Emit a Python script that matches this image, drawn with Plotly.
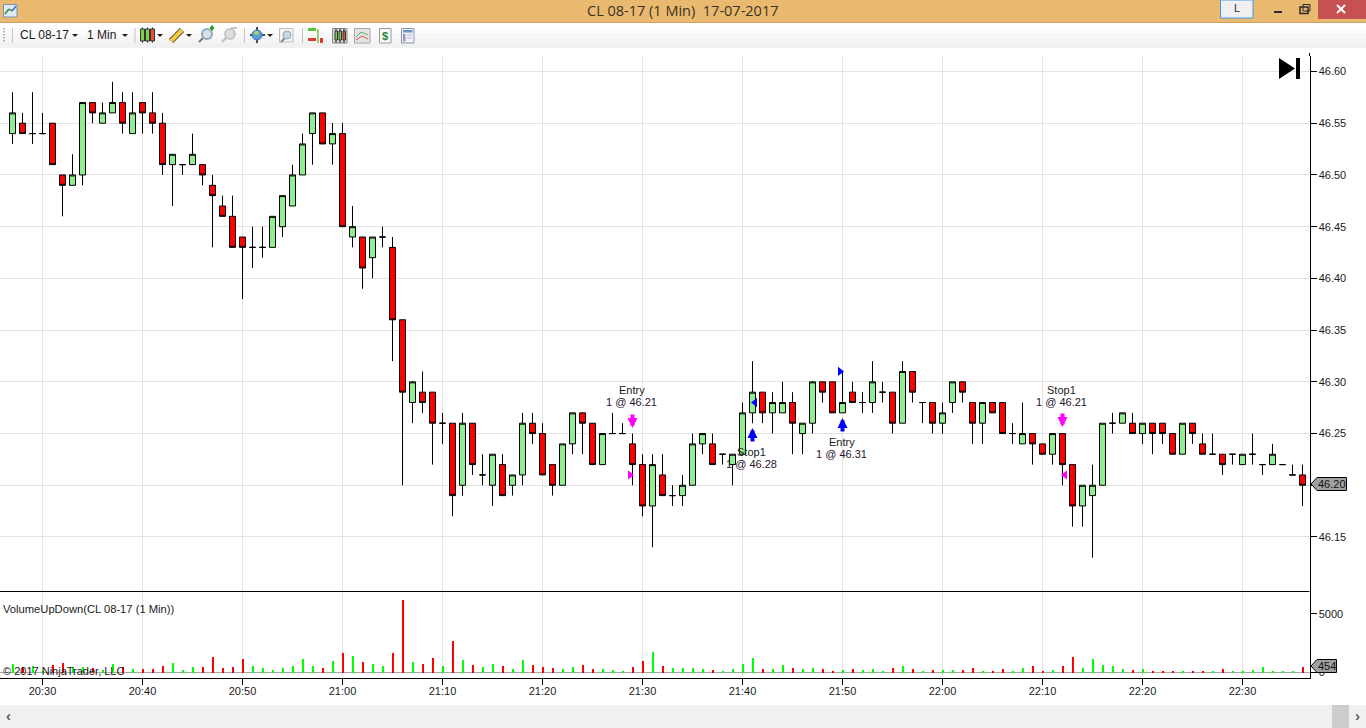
import pandas as pd
import plotly.graph_objects as go

W = 1366
H = 728

# bars, one per minute from 20:27
opens = [46.54, 46.55, 46.54, 46.54, 46.55, 46.50, 46.49, 46.50, 46.57, 46.55,
         46.56, 46.57, 46.54, 46.57, 46.56, 46.55, 46.51, 46.51, 46.51, 46.51,
         46.49, 46.47, 46.46, 46.44, 46.43, 46.43, 46.43, 46.45, 46.47, 46.50,
         46.54, 46.56, 46.53, 46.54, 46.44, 46.44, 46.42, 46.44, 46.43, 46.36,
         46.28, 46.29, 46.29, 46.26, 46.26, 46.20, 46.26, 46.21, 46.20, 46.22,
         46.20, 46.21, 46.26, 46.25, 46.22, 46.20, 46.24, 46.27, 46.26, 46.22,
         46.25, 46.25, 46.24, 46.22, 46.18, 46.21, 46.19, 46.19, 46.20, 46.24,
         46.24, 46.23, 46.22, 46.23, 46.27, 46.29, 46.27, 46.27, 46.28, 46.25,
         46.26, 46.30, 46.30, 46.27, 46.29, 46.28, 46.28, 46.29, 46.29, 46.26,
         46.31, 46.28, 46.28, 46.26, 46.28, 46.30, 46.28, 46.26, 46.28, 46.28,
         46.25, 46.24, 46.25, 46.24, 46.23, 46.25, 46.22, 46.18, 46.19, 46.20,
         46.26, 46.26, 46.26, 46.25, 46.26, 46.26, 46.25, 46.23, 46.26, 46.24,
         46.23, 46.23, 46.23, 46.22, 46.23, 46.22, 46.22, 46.22, 46.21, 46.21]
highs = [46.58, 46.56, 46.58, 46.56, 46.55, 46.50, 46.52, 46.57, 46.57, 46.57,
         46.59, 46.58, 46.58, 46.57, 46.58, 46.56, 46.52, 46.51, 46.54, 46.51,
         46.50, 46.48, 46.48, 46.44, 46.45, 46.45, 46.46, 46.48, 46.51, 46.54,
         46.56, 46.56, 46.55, 46.55, 46.47, 46.44, 46.44, 46.45, 46.44, 46.36,
         46.30, 46.31, 46.29, 46.27, 46.26, 46.27, 46.26, 46.23, 46.23, 46.23,
         46.21, 46.27, 46.27, 46.26, 46.22, 46.24, 46.27, 46.27, 46.26, 46.25,
         46.27, 46.26, 46.25, 46.23, 46.23, 46.23, 46.20, 46.21, 46.25, 46.25,
         46.25, 46.23, 46.23, 46.28, 46.32, 46.29, 46.29, 46.30, 46.29, 46.26,
         46.30, 46.30, 46.30, 46.31, 46.30, 46.29, 46.32, 46.30, 46.29, 46.32,
         46.31, 46.28, 46.28, 46.28, 46.30, 46.30, 46.28, 46.28, 46.28, 46.28,
         46.26, 46.28, 46.25, 46.24, 46.25, 46.25, 46.22, 46.20, 46.22, 46.26,
         46.27, 46.27, 46.27, 46.26, 46.26, 46.26, 46.25, 46.26, 46.26, 46.25,
         46.25, 46.23, 46.23, 46.23, 46.25, 46.22, 46.24, 46.22, 46.22, 46.22]
lows = [46.53, 46.54, 46.53, 46.54, 46.51, 46.46, 46.49, 46.49, 46.55, 46.55,
        46.56, 46.54, 46.54, 46.54, 46.54, 46.50, 46.47, 46.50, 46.51, 46.49,
        46.43, 46.46, 46.43, 46.38, 46.41, 46.42, 46.43, 46.44, 46.47, 46.50,
        46.51, 46.53, 46.51, 46.45, 46.43, 46.39, 46.40, 46.43, 46.32, 46.20,
        46.26, 46.27, 46.22, 46.24, 46.17, 46.19, 46.21, 46.20, 46.18, 46.19,
        46.19, 46.20, 46.24, 46.21, 46.19, 46.20, 46.23, 46.23, 46.22, 46.22,
        46.25, 46.25, 46.20, 46.17, 46.14, 46.19, 46.18, 46.18, 46.20, 46.23,
        46.22, 46.22, 46.20, 46.23, 46.26, 46.26, 46.25, 46.27, 46.23, 46.23,
        46.25, 46.28, 46.27, 46.27, 46.28, 46.27, 46.27, 46.28, 46.25, 46.26,
        46.28, 46.26, 46.25, 46.25, 46.27, 46.28, 46.24, 46.24, 46.27, 46.25,
        46.24, 46.24, 46.22, 46.23, 46.22, 46.20, 46.16, 46.16, 46.13, 46.20,
        46.25, 46.26, 46.25, 46.24, 46.23, 46.24, 46.23, 46.23, 46.24, 46.23,
        46.23, 46.21, 46.22, 46.22, 46.22, 46.21, 46.22, 46.22, 46.21, 46.18]
closes = [46.56, 46.54, 46.54, 46.54, 46.51, 46.49, 46.50, 46.57, 46.56, 46.56,
          46.57, 46.55, 46.56, 46.56, 46.55, 46.51, 46.52, 46.51, 46.52, 46.50,
          46.48, 46.46, 46.43, 46.43, 46.43, 46.43, 46.46, 46.48, 46.50, 46.53,
          46.56, 46.53, 46.54, 46.45, 46.45, 46.41, 46.44, 46.44, 46.36, 46.29,
          46.30, 46.28, 46.26, 46.26, 46.19, 46.26, 46.22, 46.21, 46.23, 46.19,
          46.21, 46.26, 46.25, 46.21, 46.20, 46.24, 46.27, 46.26, 46.22, 46.25,
          46.25, 46.25, 46.22, 46.18, 46.22, 46.19, 46.19, 46.20, 46.24, 46.25,
          46.22, 46.23, 46.23, 46.27, 46.29, 46.27, 46.28, 46.28, 46.26, 46.26,
          46.30, 46.29, 46.27, 46.28, 46.28, 46.28, 46.30, 46.29, 46.26, 46.31,
          46.29, 46.28, 46.26, 46.27, 46.30, 46.29, 46.26, 46.28, 46.27, 46.25,
          46.25, 46.25, 46.24, 46.23, 46.25, 46.22, 46.18, 46.20, 46.20, 46.26,
          46.26, 46.27, 46.25, 46.26, 46.25, 46.25, 46.23, 46.26, 46.25, 46.23,
          46.23, 46.22, 46.23, 46.23, 46.23, 46.22, 46.23, 46.22, 46.21, 46.20]
volumes = [740, 510, 600, 170, 680, 850, 510, 510, 425, 255,
           770, 510, 340, 340, 340, 600, 850, 255, 510, 510,
           1360, 425, 510, 1190, 600, 425, 255, 425, 600, 1190,
           600, 425, 1020, 1700, 1450, 935, 770, 600, 1700, 6200,
           935, 770, 1275, 600, 2720, 1105, 680, 510, 770, 600,
           340, 1105, 680, 510, 425, 340, 510, 680, 340, 340,
           255, 170, 510, 1020, 1790, 600, 425, 425, 425, 340,
           255, 170, 340, 770, 1275, 340, 340, 680, 425, 340,
           425, 340, 170, 255, 340, 255, 340, 170, 425, 600,
           340, 170, 255, 255, 255, 255, 425, 170, 85, 340,
           170, 425, 600, 170, 255, 600, 1360, 425, 1190, 680,
           600, 340, 255, 340, 170, 170, 85, 170, 85, 170,
           170, 340, 85, 170, 255, 510, 170, 85, 85, 454]

# executions: bar index, price, colour, side the small triangle sits on
exec_bars = [62, 74, 83, 105]
exec_prices = [46.21, 46.28, 46.31, 46.21]
exec_names = ["Entry", "Stop1", "Entry", "Stop1"]
exec_colors = ["#ff00ff", "#0000ff", "#0000ff", "#ff00ff"]
exec_symbols = ["triangle-right", "triangle-left", "triangle-right", "triangle-left"]

price_ticks = [46.15, 46.20, 46.25, 46.30, 46.35, 46.40, 46.45, 46.50, 46.55, 46.60]
volume_ticks = [0, 5000]

times = pd.date_range("2017-07-17 20:27", periods=len(closes), freq="min")
x_strs = times.strftime("%Y-%m-%d %H:%M:%S").tolist()
bar_colors = ["#00ff00" if c >= o else "#ff0000" for o, c in zip(opens, closes)]

FONT = "Liberation Sans"
TEXT = "#1a1a1a"
GRID = "#e2e2e2"
CLEAR = "rgba(0,0,0,0)"

shapes = []
annots = []


def box(x0, y0, x1, y1, fill, line=None, lw=1):
    shapes.append(dict(type="rect", xref="paper", yref="paper",
                       x0=x0 / W, x1=x1 / W, y0=1 - y0 / H, y1=1 - y1 / H,
                       fillcolor=fill, line=dict(color=line or fill, width=lw if line else 0)))


def seg(x0, y0, x1, y1, color, lw=1):
    shapes.append(dict(type="line", xref="paper", yref="paper",
                       x0=x0 / W, x1=x1 / W, y0=1 - y0 / H, y1=1 - y1 / H,
                       line=dict(color=color, width=lw)))


def poly(points, fill, line=None, lw=1):
    path = "M" + "L".join(f"{x / W:.5f},{1 - y / H:.5f}" for x, y in points) + "Z"
    shapes.append(dict(type="path", xref="paper", yref="paper", path=path,
                       fillcolor=fill, line=dict(color=line or fill, width=lw if line else 0)))


def circle(x0, y0, x1, y1, fill, line=None, lw=1):
    shapes.append(dict(type="circle", xref="paper", yref="paper",
                       x0=x0 / W, x1=x1 / W, y0=1 - y0 / H, y1=1 - y1 / H,
                       fillcolor=fill, line=dict(color=line or fill, width=lw if line else 0)))


def label(x, y, text, size=11, color=TEXT, anchor="left", font=FONT):
    annots.append(dict(xref="paper", yref="paper", x=x / W, y=1 - y / H, text=text,
                       showarrow=False, xanchor=anchor, yanchor="middle",
                       font=dict(family=font, size=size, color=color),
                       borderpad=0, borderwidth=0))


def dropdown(x, y):
    poly([(x, y), (x + 6, y), (x + 3, y + 3)], "#222222")


# title bar
box(0, 0, W, 22, "#e8b96f")
seg(0, 22.5, W, 22.5, "#c9a263")
label(682, 11, "CL 08-17 (1 Min)&nbsp;&nbsp;17-07-2017", size=14.5, color="#3c3326", anchor="center", font="Open Sans")
box(3.5, 4.5, 17, 17, "#dfe8f5", "#7d93b5")
seg(5, 14, 9, 9, "#2f8f2f", 1.5)
seg(9, 9, 12, 11, "#2f8f2f", 1.5)
seg(12, 11, 16, 6, "#2f6fd0", 1.5)
box(1220.5, 0, 1253, 18, "#f0f0f0", "#3e9bf0")
label(1237, 8, "L", size=11, color="#333333", anchor="center")
box(1274, 11, 1282, 13, "#2b2b2b")
box(1300, 7, 1308, 13.5, CLEAR, "#2b2b2b", 1.5)
box(1303, 4.5, 1310, 11, CLEAR, "#2b2b2b", 1)
box(1318, 0, W, 19, "#c75050")
seg(1337, 5, 1345, 13, "#ffffff", 2)
seg(1345, 5, 1337, 13, "#ffffff", 2)

# toolbar
for i, col in enumerate(["#ffffff", "#fcfcfc", "#f8f8f8", "#f4f4f4", "#f1f1f1"]):
    box(0, 23 + i * 5, W, 28 + i * 5, col)
for yy in (28, 31, 34, 37, 40):
    box(3, yy, 5, yy + 1.5, "#b5b5b5")
for xx in (12.5, 135, 244.5, 302.5):
    seg(xx, 28, xx, 43, "#c4c4c4")
label(20, 35, "CL 08-17", size=12)
dropdown(72, 34)
label(87, 35, "1 Min", size=12)
dropdown(122, 34)
# candles icon
for xx, col in ((140.5, "#7ed04b"), (145.5, "#7ed04b"), (150.5, "#ee4b3c")):
    seg(xx + 2, 27.5, xx + 2, 42.5, "#222222")
    box(xx, 29, xx + 4, 41, col, "#333333")
dropdown(157, 34)
# pencil
seg(171, 41, 182, 30, "#444444", 6)
seg(171, 41, 182, 30, "#f5c93c", 4)
dropdown(186, 34)
# magnifiers
seg(199, 42, 204, 37, "#777777", 2)
circle(202, 29, 212, 39, "#cfe2f2", "#9aa5ae", 2)
box(210, 27, 214, 29, "#20a020")
box(211, 25.5, 213, 30.5, "#20a020")
seg(222, 42, 227, 37, "#bbbbbb", 2)
circle(225, 29, 235, 39, "#dddddd", "#c6c6c6", 2)
box(231, 27, 237, 29, "#c6c6c6")
# globe
seg(257, 27, 257, 43, "#111111", 1.5)
seg(250, 35, 265, 35, "#111111", 1.5)
circle(252, 30, 262, 40, "#5a9be0", "#3f77b8", 1)
circle(254, 31, 259, 35, "#a9d36f")
dropdown(267, 34)
box(279.5, 28.5, 293, 42, "#f4f4f4", "#bdbdbd")
seg(281, 42, 285, 38, "#888888", 2)
circle(283, 31, 291, 39, "#c6d8e8", "#9aa5ae", 1)
# order entry icon
box(308, 28, 316, 31, "#50c83c")
box(308, 38, 316, 41, "#e03a2a")
box(317, 29, 319, 43, "#9ad07a")
box(320, 38, 323, 43, "#e03a2a")
# chart styles
box(332.5, 28.5, 347, 43, "#d8d8d8", "#8a8a8a")
for xx, col in ((335, "#7ed04b"), (339, "#7ed04b"), (343, "#ee4b3c")):
    seg(xx + 1, 28.5, xx + 1, 43, "#222222")
    box(xx, 31, xx + 2.5, 40, col, "#333333")
box(354.5, 28.5, 370, 43, "#e4e4e4", "#a8a8a8")
seg(356, 37, 361, 32, "#55b055")
seg(361, 32, 368, 35, "#55b055")
seg(356, 40, 362, 36, "#d05050")
seg(362, 36, 368, 39, "#d05050")
box(379.5, 28.5, 391, 43, "#f8f8f8", "#9a9a9a")
label(385, 36, "<b>$</b>", size=11, color="#1f8a3c", anchor="center")
box(401.5, 28.5, 414, 43, "#eef2f6", "#8a9aaa")
box(403, 30, 412.5, 32.5, "#6a94c8")
box(403, 34, 405.5, 41.5, "#a888d8")
seg(407, 35, 412, 35, "#b0b8c0")
seg(407, 38, 412, 38, "#b0b8c0")

# bottom scrollbar
box(0, 705, W, H, "#f0f0f0")
box(1332, 705, 1349, H, "#cdcdcd")
label(8, 715, "<b>‹</b>", size=15, color="#606060", anchor="center")
label(1357, 715, "<b>›</b>", size=15, color="#606060", anchor="center")

# go-to-end button on the chart
poly([(1279, 58), (1295, 68.5), (1279, 79)], "#000000")
box(1296, 58, 1300, 79, "#000000")

# panel frame
seg(0, 591.5, 1309.5, 591.5, "#000000")
seg(1309.5, 53, 1309.5, 56, "#000000")

# labels in the indicator panel
label(3, 609, "VolumeUpDown(CL 08-17 (1 Min))", size=11.2)
label(3, 671, "© 2017 NinjaTrader, LLC", size=11)

# last price and last volume tags
poly([(1311, 484), (1317, 477.5), (1346.5, 477.5), (1346.5, 490.5), (1317, 490.5)], "#a0a0a0", "#000000")
label(1331.5, 484, "46.20", size=11, color="#111111", anchor="center")
poly([(1311, 666), (1317, 659.5), (1336.5, 659.5), (1336.5, 672.5), (1317, 672.5)], "#a0a0a0", "#000000")
label(1327, 666, "454", size=11, color="#111111", anchor="center")

# trade labels and arrows, offsets in screen pixels from the execution price
exec_x = [x_strs[i] for i in exec_bars]
tri_offset = [pd.Timedelta(seconds=s) for s in (-15, 15, -15, 15)]
tri_x = [(times[i] + d).strftime("%Y-%m-%d %H:%M:%S") for i, d in zip(exec_bars, tri_offset)]
label_rows = [(390, 402, 413, 428), (452, 464, 443, 428), (442, 454, 433, 418), (390, 402, 412, 427)]
for i, (y_name, y_qty, y_from, y_tip) in enumerate(label_rows):
    xp = (12.4 + exec_bars[i] * 10)
    label(xp - 0.5, y_name, exec_names[i], anchor="center")
    label(xp - 0.5, y_qty, f"1 @ {exec_prices[i]:.2f}", anchor="center", color="#2a1030")
    annots.append(dict(xref="x", yref="paper", x=exec_x[i], y=1 - y_tip / H,
                       ax=0, ay=y_from - y_tip, axref="pixel", ayref="pixel",
                       text="", showarrow=True, arrowhead=2, arrowsize=0.5, arrowwidth=4,
                       arrowcolor=exec_colors[i], standoff=0, startstandoff=0))

fig = go.Figure()
fig.add_trace(go.Candlestick(
    x=x_strs, open=opens, high=highs, low=lows, close=closes,
    increasing=dict(line=dict(color="#000000", width=1), fillcolor="#90ee90"),
    decreasing=dict(line=dict(color="#000000", width=1), fillcolor="#ff0000"),
    whiskerwidth=0, xaxis="x", yaxis="y", showlegend=False,
))
fig.add_trace(go.Scatter(
    x=tri_x, y=exec_prices, mode="markers", xaxis="x", yaxis="y", showlegend=False,
    marker=dict(symbol=exec_symbols, color=exec_colors, size=8, line=dict(width=0)),
))
fig.add_trace(go.Bar(
    x=x_strs, y=volumes, width=12000, marker=dict(color=bar_colors, line=dict(width=0)),
    xaxis="x", yaxis="y2", showlegend=False,
))

fig.update_layout(
    width=W, height=H, autosize=False,
    margin=dict(l=0, r=0, t=0, b=0, pad=0),
    paper_bgcolor="#ffffff", plot_bgcolor="#ffffff",
    boxgap=0, boxgroupgap=0.4, bargap=0, showlegend=False,
    font=dict(family=FONT, size=11, color=TEXT),
    shapes=shapes, annotations=annots,
    xaxis=dict(
        domain=[0, 1309.5 / W], anchor="y2",
        range=["2017-07-17 20:25:45", "2017-07-17 22:36:42"],
        type="date", tick0="2017-07-17 20:30:00", dtick=600000, tickformat="%H:%M",
        showgrid=True, gridcolor=GRID, gridwidth=1,
        showline=True, linecolor="#000000", linewidth=1,
        ticks="outside", ticklen=6, tickcolor="#000000", tickwidth=1,
        tickfont=dict(family=FONT, size=11, color=TEXT), ticklabelstandoff=-3,
        rangeslider=dict(visible=False), zeroline=False,
    ),
    yaxis=dict(
        domain=[1 - 591.5 / H, 1 - 56 / H], anchor="x", side="right",
        range=[46.0973, 46.6150],
        tickvals=price_ticks, tickformat=".2f",
        showgrid=True, gridcolor=GRID, gridwidth=1,
        showline=True, linecolor="#000000", linewidth=1,
        ticks="outside", ticklen=6, tickcolor="#000000", tickwidth=1,
        tickfont=dict(family=FONT, size=11, color=TEXT),
        zeroline=False,
    ),
    yaxis2=dict(
        domain=[1 - 677.5 / H, 1 - 591.5 / H], anchor="x", side="right",
        range=[-465, 6900],
        tickvals=volume_ticks, tickformat="d",
        showgrid=False,
        showline=True, linecolor="#000000", linewidth=1,
        ticks="outside", ticklen=6, tickcolor="#000000", tickwidth=1,
        tickfont=dict(family=FONT, size=11, color=TEXT),
        zeroline=True, zerolinecolor="#a8a8a8", zerolinewidth=1,
    ),
)

fig.write_html("out.html", config=dict(displayModeBar=False),
               post_script="document.body.style.margin='0';document.body.style.overflow='hidden';")
